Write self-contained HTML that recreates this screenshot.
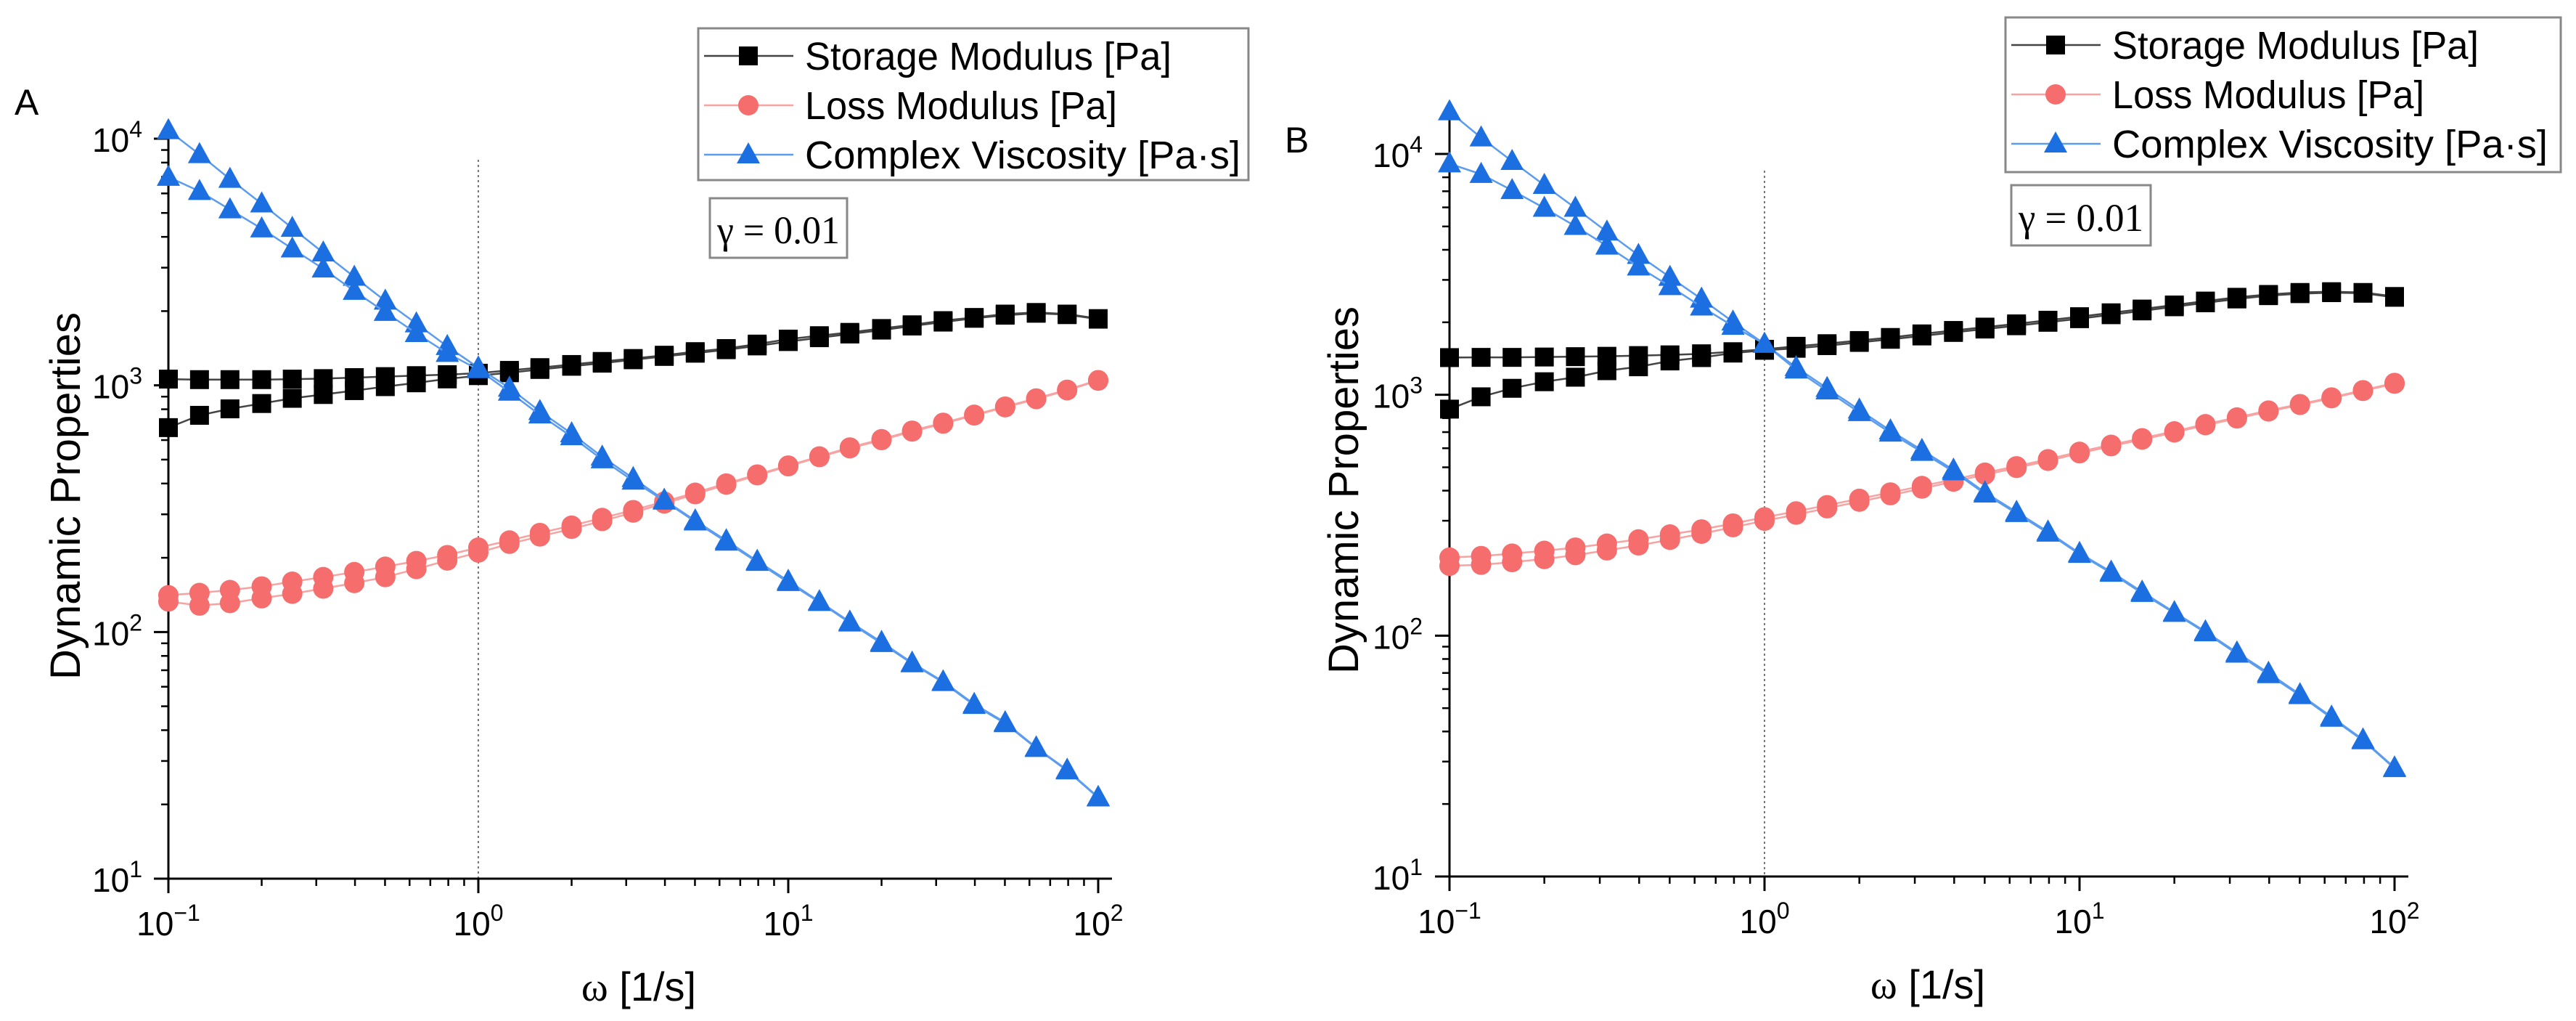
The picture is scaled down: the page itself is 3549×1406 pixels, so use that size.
<!DOCTYPE html>
<html><head><meta charset="utf-8"><style>
html,body{margin:0;padding:0;background:#fff;}
svg{display:block;}
text{font-family:"Liberation Sans",Arial,sans-serif;fill:#000;}
</style></head><body>
<svg id="fig" width="3549" height="1406" viewBox="0 0 3549 1406" xmlns="http://www.w3.org/2000/svg"></svg>
<script>
// ---- data ----
const freq = [0.1,0.126,0.158,0.2,0.251,0.316,0.398,0.501,0.631,0.794,1,1.26,1.58,2,2.51,3.16,3.98,5.01,6.31,7.94,10,12.6,15.8,20,25.1,31.6,39.8,50.1,63.1,79.4,100];
const xTicks = [0.1,1,10,100];
const xTickExp = ["\u22121","0","1","2"];
const yTicks = [10,100,1000,10000];
const yTickExp = ["1","2","3","4"];
const seriesNames = ["Storage Modulus [Pa]","Loss Modulus [Pa]","Complex Viscosity [Pa\u00b7s]"];

const storageA1 = [1060,1055,1055,1055,1060,1065,1075,1085,1095,1105,1120,1150,1180,1215,1250,1285,1325,1370,1410,1470,1540,1590,1640,1700,1760,1830,1885,1945,1975,1945,1865];
const storageA2 = [674,756,803,844,886,918,952,988,1024,1062,1095,1125,1160,1195,1230,1270,1310,1350,1395,1445,1505,1560,1615,1675,1740,1805,1870,1925,1960,1935,1855];
const lossA1 = [141,144,148,153,160,167,175,184,194,205,220,235,252,270,290,312,338,367,400,435,473,515,560,605,655,705,760,820,885,960,1050];
const lossA2 = [133,128,131,137,143,150,158,167,180,195,210,228,244,262,282,305,332,362,396,432,470,512,556,600,650,700,755,815,880,955,1045];
const viscA1 = [10800,8640,6860,5450,4340,3450,2750,2200,1780,1440,1180,976,785,638,513,420,343,283,235,194,161,133,110,91,75,63,51,43,34,27.6,21.4];
const viscA2 = [6990,6120,5160,4320,3580,2970,2410,1980,1625,1350,1160,940,760,620,500,410,340,280,232,192,159,132,109,90,74.5,62.5,50.5,42.6,33.8,27.4,21.3];

const storageB1 = [1427,1430,1430,1435,1440,1445,1455,1465,1480,1510,1545,1590,1630,1680,1730,1790,1850,1910,1970,2040,2110,2190,2270,2360,2450,2540,2610,2660,2680,2660,2560];
const storageB2 = [872,981,1064,1133,1183,1259,1307,1382,1427,1490,1530,1560,1600,1650,1700,1755,1815,1875,1935,2000,2070,2150,2230,2320,2410,2500,2580,2630,2655,2640,2540];
const lossB1 = [211,214,219,225,232,241,251,263,276,292,310,328,348,370,393,418,445,475,505,540,580,620,660,705,755,805,860,915,975,1045,1120];
const lossB2 = [195,197,202,208,216,226,237,250,265,282,300,318,338,360,383,408,436,466,497,532,572,612,652,698,748,798,853,908,968,1038,1112];
const viscB1 = [15000,11680,9330,7420,5960,4750,3800,3080,2500,2010,1625,1300,1065,866,710,589,488,393,326,270,220,184,152,125,104,85,70,57,46,37,28.3];
const viscB2 = [9110,8240,7060,5960,5010,4150,3400,2820,2320,1930,1625,1270,1040,845,695,578,480,388,322,267,218,182,150,124,103,84,69,56.5,45.5,36.7,28.1];

const NS = "http://www.w3.org/2000/svg";
const svg = document.getElementById('fig');
function el(tag, attrs, parent){
  const e = document.createElementNS(NS, tag);
  for (const k in attrs) e.setAttribute(k, attrs[k]);
  (parent||svg).appendChild(e);
  return e;
}

const panels = [
  {id:'a', letter:'A', lx:20, ly:158, x0:232, x3:1513, y4:191, y1:1210, xEnd:1532, yTop:165,
   dotTop:220, legend:{x:962,y:39,w:758,h:209}, gamma:{x:978,y:273,w:189,h:82},
   ytitle:{x:90,y:683}, xtitle:{x:880,y:1378}, ylabR:196,
   data:[[storageA1,storageA2],[lossA1,lossA2],[viscA1,viscA2]]},
  {id:'b', letter:'B', lx:1770, ly:210, x0:1997, x3:3299, y4:212, y1:1207, xEnd:3318, yTop:144,
   dotTop:235, legend:{x:2763,y:24,w:765,h:213}, gamma:{x:2771,y:255,w:192,h:83},
   ytitle:{x:1851,y:675}, xtitle:{x:2656,y:1375}, ylabR:1960,
   data:[[storageB1,storageB2],[lossB1,lossB2],[viscB1,viscB2]]}
];

const styles = [
  {line:'#444', fill:'#000', shape:'square', name:'storage'},
  {line:'#f8a2a2', fill:'#f66d6d', shape:'circle', name:'loss'},
  {line:'#5b9cee', fill:'#1c6fe0', shape:'triangle', name:'viscosity'}
];

function marker(g, shape, cx, cy, color){
  let m;
  if (shape==='square') m = el('rect',{x:cx-13,y:cy-13,width:26,height:26,fill:color},g);
  else if (shape==='circle') m = el('circle',{cx:cx,cy:cy,r:14,fill:color},g);
  else m = el('polygon',{points:`${cx},${cy-17} ${cx-16},${cy+12} ${cx+16},${cy+12}`,fill:color},g);
  return m;
}

panels.forEach(p=>{
  const dx = (p.x3-p.x0)/3, dy = (p.y1-p.y4)/3;
  const X = v => p.x0 + (Math.log10(v)+1)*dx;
  const Y = v => p.y1 - (Math.log10(v)-1)*dy;
  const g = el('g',{});
  
  

  const lt = el('text',{x:p.lx,y:p.ly,'font-size':50},g);
  lt.textContent = p.letter;
  
  

  const dl = el('line',{x1:X(1),x2:X(1),y1:p.dotTop,y2:p.y1,stroke:'#777','stroke-width':2,'stroke-dasharray':'3,4'},g);
  
  

  const ax = el('g',{stroke:'#000','stroke-width':3},g);
  
  
  el('line',{x1:p.x0,x2:p.x0,y1:p.yTop,y2:p.y1+20},ax);
  el('line',{x1:p.x0-20,x2:p.xEnd,y1:p.y1,y2:p.y1},ax);
  for (let d=-1; d<2; d++){
    for (let k=2;k<=9;k++){
      const xv = X(k*Math.pow(10,d));
      el('line',{x1:xv,x2:xv,y1:p.y1,y2:p.y1+10,'stroke-width':2.5},ax);
    }
  }
  xTicks.forEach((t,i)=>{
    const xv = X(t);
    el('line',{x1:xv,x2:xv,y1:p.y1,y2:p.y1+20},ax);
    const tx = el('text',{x:xv,y:p.y1+78,'font-size':46,'text-anchor':'middle'},g);
    
    
    const a = el('tspan',{},tx); a.textContent='10';
    const b = el('tspan',{dy:-20,'font-size':32},tx); b.textContent=xTickExp[i];
  });
  const yMaxV = Math.pow(10, 1 + (p.y1-p.yTop)/dy);
  for (let d=1; d<5; d++){
    for (let k=2;k<=9;k++){
      const v = k*Math.pow(10,d);
      if (v > yMaxV) continue;
      const yv = Y(v);
      el('line',{x1:p.x0-10,x2:p.x0,y1:yv,y2:yv,'stroke-width':2.5},ax);
    }
  }
  yTicks.forEach((t,i)=>{
    const yv = Y(t);
    el('line',{x1:p.x0-20,x2:p.x0,y1:yv,y2:yv},ax);
    const ty = el('text',{x:p.ylabR,y:yv+18,'font-size':46,'text-anchor':'end'},g);
    
    
    const a = el('tspan',{},ty); a.textContent='10';
    const b = el('tspan',{dy:-20,'font-size':32},ty); b.textContent=yTickExp[i];
  });

  const yt = el('text',{x:p.ytitle.x,y:p.ytitle.y,'font-size':58,'text-anchor':'middle',transform:`rotate(-90 ${p.ytitle.x} ${p.ytitle.y}) translate(0 20)`},g);
  yt.textContent = 'Dynamic Properties';
  
  
  const xt = el('text',{x:p.xtitle.x,y:p.xtitle.y,'font-size':56,'text-anchor':'middle'},g);
  
  
  const w = el('tspan',{'font-family':'"Liberation Serif",serif'},xt); w.textContent='\u03c9';
  const r = el('tspan',{},xt); r.textContent=' [1/s]';

  p.data.forEach((pair,si)=>{
    const st = styles[si];
    pair.forEach((arr,ri)=>{
      const sg = el('g',{},g);
      
      
      const pts = arr.map((v,i)=>X(freq[i]).toFixed(1)+','+Y(v).toFixed(1)).join(' ');
      el('polyline',{points:pts,fill:'none',stroke:st.line,'stroke-width':2.5},sg);
      arr.forEach((v,i)=>{
        const m = marker(sg, st.shape, X(freq[i]), Y(v), st.fill);
        
        
      });
    });
  });

  const L = p.legend;
  const lg = el('g',{},g);
  
  
  el('rect',{x:L.x,y:L.y,width:L.w,height:L.h,fill:'#fff',stroke:'#888','stroke-width':3},lg);
  styles.forEach((st,i)=>{
    const cy = L.y + 38 + i*68;
    const eg = el('g',{},lg);
    
    
    el('line',{x1:L.x+8,x2:L.x+131,y1:cy,y2:cy,stroke:st.line,'stroke-width':2.5},eg);
    marker(eg, st.shape, L.x+69, cy, st.fill);
    const t = el('text',{x:L.x+147,y:cy+19,'font-size':54,textLength:(i===2?600:(i===0?505:430)),lengthAdjust:'spacingAndGlyphs'},eg);
    t.textContent = seriesNames[i];
  });

  const G = p.gamma;
  const gg = el('g',{},g);
  
  
  el('rect',{x:G.x,y:G.y,width:G.w,height:G.h,fill:'#fff',stroke:'#888','stroke-width':3},gg);
  const gt = el('text',{x:G.x+G.w/2,y:G.y+G.h-20,'font-size':54,'text-anchor':'middle',textLength:G.w-20,lengthAdjust:'spacingAndGlyphs'},gg);
  gt.setAttribute('style','font-family:"Liberation Serif",serif');
  gt.textContent = '\u03b3 = 0.01';
});
</script>
</body></html>
